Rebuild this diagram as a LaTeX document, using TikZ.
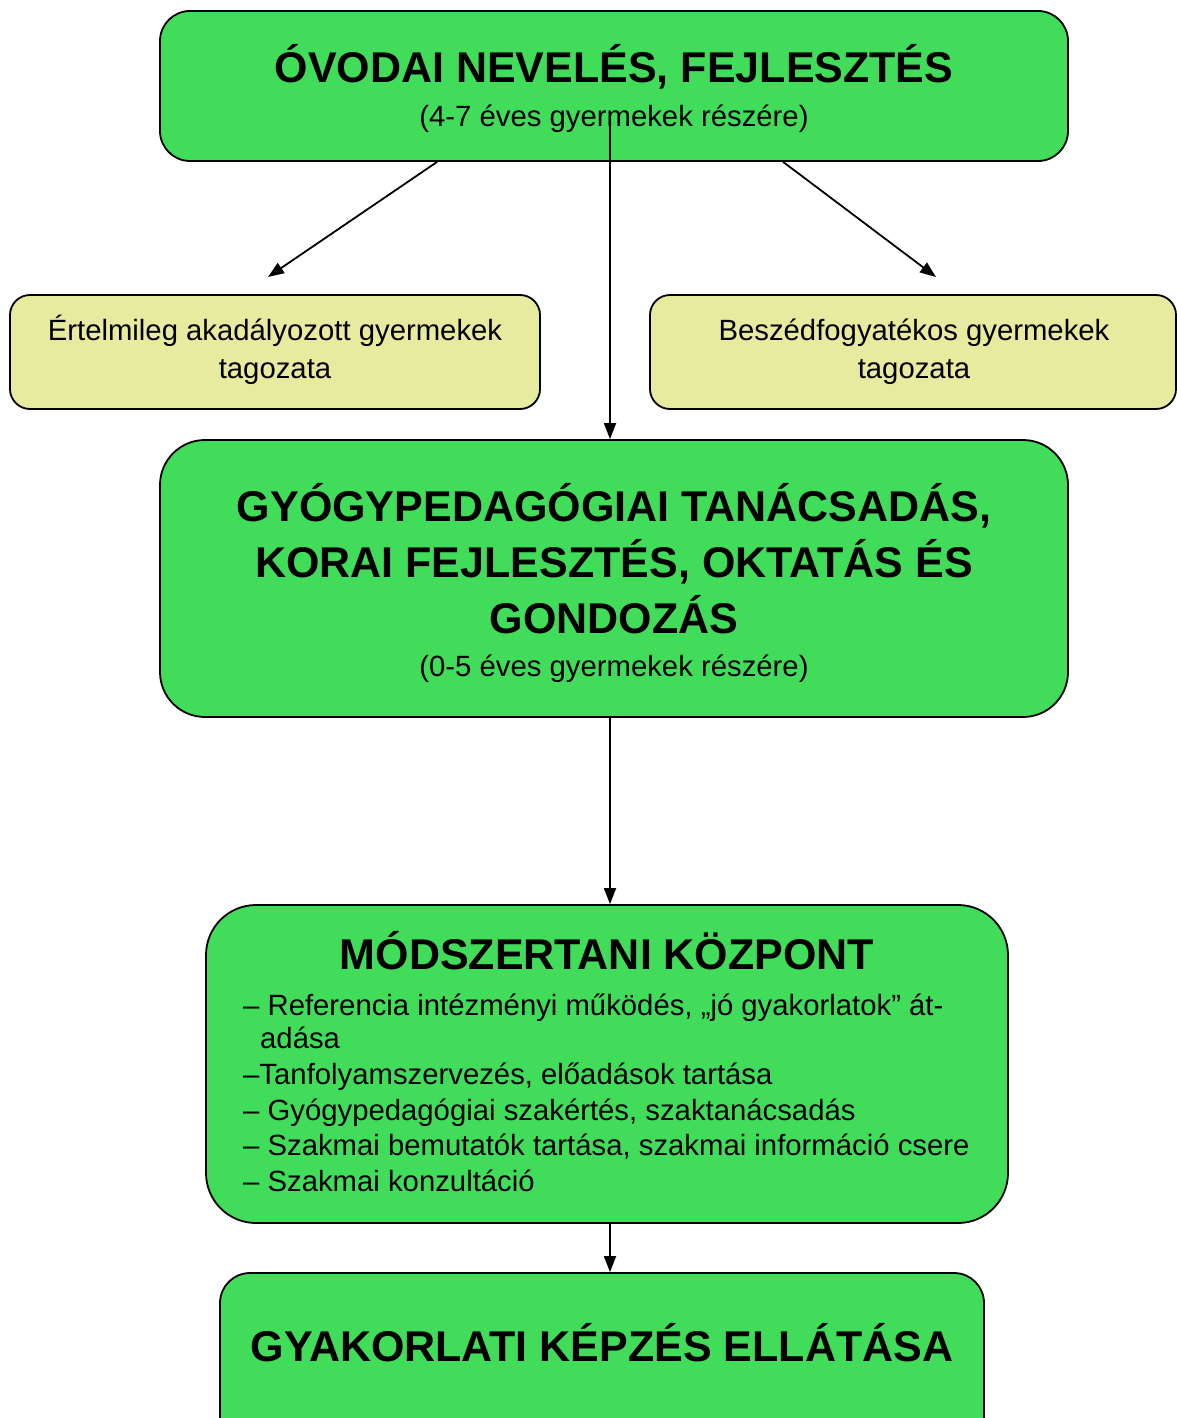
\documentclass[tikz,border=0pt]{standalone}
\usepackage{fontspec}
\setmainfont{Liberation Sans}
\usetikzlibrary{arrows.meta}
\definecolor{boxgreen}{RGB}{65,221,90}
\definecolor{boxyellow}{RGB}{230,235,160}
\begin{document}
\begin{tikzpicture}[x=1pt,y=-1pt,
  box/.style={draw=black, line width=1.8pt, rectangle, inner sep=0pt},
  greenbox/.style={box, fill=boxgreen},
  yellowbox/.style={box, fill=boxyellow, rounded corners=20pt},
  bigtitle/.style={font=\fontsize{43}{50}\selectfont\bfseries, inner sep=0pt, anchor=base},
  normtext/.style={font=\fontsize{29.3}{35}\selectfont, inner sep=0pt, anchor=base},
  listtext/.style={font=\fontsize{29.3}{35}\selectfont, inner sep=0pt, anchor=base west},
  arr/.style={draw=black, line width=1.8pt, -{Triangle[length=16pt,width=12pt]}}]
\useasboundingbox (0,0) rectangle (1177,1418);
\clip (0,0) rectangle (1177,1418);
% boxes
\node[greenbox, rounded corners=30pt, minimum width=908pt, minimum height=150pt] (ovoda) at (614,86) {};
\node[yellowbox, minimum width=530pt, minimum height=114pt] (ertelmi) at (275,352) {};
\node[yellowbox, minimum width=526pt, minimum height=114pt] (beszed) at (913,352) {};
\node[greenbox, rounded corners=45pt, minimum width=908pt, minimum height=277pt] (gyogy) at (614,578.5) {};
\node[greenbox, rounded corners=50pt, minimum width=802pt, minimum height=318pt] (modsz) at (607,1064) {};
\node[greenbox, rounded corners=30pt, minimum width=764pt, minimum height=177pt] (gyak) at (602,1361.5) {};
% texts
\node[bigtitle] (t1) at (614,83) {ÓVODAI NEVELÉS, FEJLESZTÉS};
\node[normtext] (t1s) at (614,127) {(4-7 éves gyermekek részére)};
\node[normtext] (e1) at (275,340) {Értelmileg akadályozott gyermekek};
\node[normtext] (e2) at (275,378) {tagozata};
\node[normtext] (b1) at (914,340) {Beszédfogyatékos gyermekek};
\node[normtext] (b2) at (914,378) {tagozata};
\node[bigtitle] (g1) at (614,521) {GYÓGYPEDAGÓGIAI TANÁCSADÁS,};
\node[bigtitle] (g2) at (614,577) {KORAI FEJLESZTÉS, OKTATÁS ÉS};
\node[bigtitle] (g3) at (614,633) {GONDOZÁS};
\node[normtext] (g4) at (614,676) {(0-5 éves gyermekek részére)};
\node[bigtitle] (m0) at (607,969) {MÓDSZERTANI KÖZPONT};
\node[listtext] (m1) at (243,1015) {– Referencia intézményi működés, „jó gyakorlatok” át-};
\node[listtext] (m1b) at (260,1048) {adása};
\node[listtext] (m2) at (243,1084) {–Tanfolyamszervezés, előadások tartása};
\node[listtext] (m3) at (243,1120) {– Gyógypedagógiai szakértés, szaktanácsadás};
\node[listtext] (m4) at (243,1155) {– Szakmai bemutatók tartása, szakmai információ csere};
\node[listtext] (m5) at (243,1191) {– Szakmai konzultáció};
\node[bigtitle] (k1) at (602,1361) {GYAKORLATI KÉPZÉS ELLÁTÁSA};
% connectors
\coordinate (la) at ([xshift=278pt]ovoda.south west);
\coordinate (lt) at (268,277);
\coordinate (ra) at ([xshift=624pt]ovoda.south west);
\coordinate (rt) at (936,277);
\coordinate (vs) at (610,120);
\draw[arr] (la) -- (lt);
\draw[arr] (ra) -- (rt);
\draw[arr] (vs) -- (vs |- gyogy.north);
\draw[arr] ([xshift=-4pt]gyogy.south) -- ([xshift=-4pt]gyogy.south |- modsz.north);
\draw[arr] ([xshift=3pt]modsz.south) -- ([xshift=3pt]modsz.south |- gyak.north);
\end{tikzpicture}
\end{document}
